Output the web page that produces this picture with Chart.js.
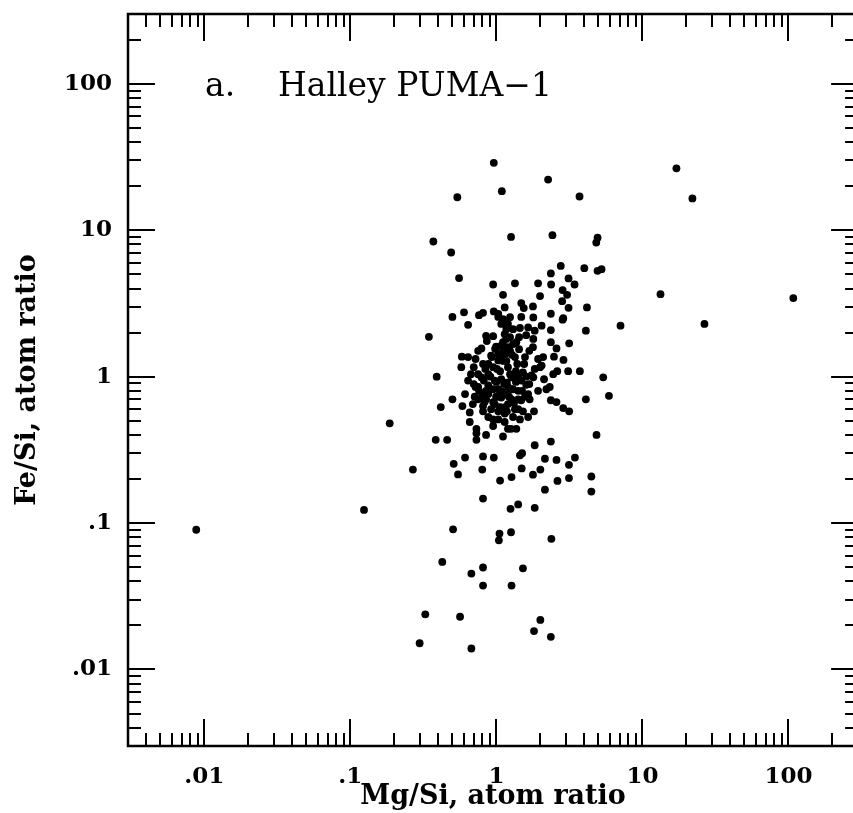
<!DOCTYPE html>
<html>
<head>
<meta charset="utf-8">
<script src="https://cdn.jsdelivr.net/npm/chart.js@4"></script>
<style>
  html, body { margin: 0; padding: 0; background: #fff; overflow: hidden; }
  #wrap { width: 853px; height: 813px; overflow: hidden; }
</style>
</head>
<body>
<div id="wrap"><canvas id="scatter" width="862" height="813"></canvas></div>
<script>
// Mg/Si and Fe/Si atom ratios, one entry per particle
const mgSi = [
  0.96, 2.26, 0.54, 1.09, 3.71, 1.26, 2.42, 4.93, 4.83, 0.37,
  0.49, 2.76, 4.00, 4.93, 5.25, 0.555, 2.36, 0.95, 1.34, 1.93,
  2.37, 3.12, 3.43, 1.11, 1.99, 2.84, 3.05, 2.82, 1.48, 1.54,
  1.78, 1.14, 0.96, 0.81, 0.76, 0.60, 0.50, 2.36, 3.12, 4.17,
  2.87, 1.48, 1.79, 1.03, 0.64, 0.345, 0.85, 2.04, 2.36, 2.84,
  4.10, 7.08, 2.36, 2.58, 3.15, 1.78, 0.79, 0.58, 0.72, 2.48,
  2.88, 0.39, 0.575, 3.10, 3.73, 5.39, 2.04, 2.45, 2.61, 1.79,
  1.52, 1.20, 1.30, 1.45, 1.65, 1.83, 1.14, 1.08, 1.20, 1.37,
  1.57, 1.34, 0.92, 0.88, 1.03, 1.20, 0.67, 0.79, 0.975, 1.27,
  1.48, 1.83, 1.99, 1.74, 0.64, 2.20, 2.32, 1.65, 1.69, 2.36,
  2.58, 2.87, 3.15, 4.10, 5.90, 1.81, 0.50, 0.61, 0.585, 0.416,
  0.71, 0.81, 0.81, 0.657, 0.657, 0.186, 0.73, 0.73, 0.73, 0.85,
  0.95, 0.95, 1.14, 1.30, 1.26, 1.37, 1.34, 1.14, 0.384, 0.46,
  1.83, 2.36, 4.85, 0.61, 0.81, 0.96, 1.45, 1.50, 2.15, 2.58,
  3.45, 0.75, 0.88, 1.03, 1.20, 1.41, 0.88, 1.08, 1.27, 1.48,
  0.975, 1.14, 0.83, 0.268, 0.51, 3.14, 0.546, 0.80, 1.49, 2.00,
  1.78, 1.27, 1.06, 2.62, 3.14, 4.47, 4.47, 2.15, 0.81, 1.41,
  1.25, 1.83, 0.505, 1.05, 1.04, 1.26, 2.38, 0.426, 0.674, 0.81,
  1.52, 0.81, 1.27, 0.326, 0.564, 2.00, 1.81, 2.36, 0.298, 0.674,
  0.0088, 0.124, 13.3, 17.1, 22.0, 26.6, 108,
  1.11, 1.17, 1.15, 1.11, 1.06, 1.18, 1.09, 1.22, 0.995, 0.85,
  0.75, 0.92, 1.03, 1.41, 1.57, 1.60, 1.36, 1.55, 1.68, 0.995,
  0.86, 0.72, 0.95, 0.82, 1.30, 1.45, 1.65, 1.24, 1.43, 2.09,
  2.12, 1.93,
  1.03, 1.08, 1.24, 1.17, 1.11, 1.24, 1.03, 1.30, 1.60, 1.79,
  1.43, 0.75, 0.70, 0.81, 0.75, 0.88, 1.08, 1.36, 1.60, 0.95,
  0.80, 0.69, 1.20, 1.41, 1.03, 1.20, 1.11, 0.88, 1.52, 1.93,
  0.64, 0.95,
  0.98, 1.08, 1.17, 1.28, 1.39, 1.24, 1.13, 1.00, 0.91, 0.85,
  0.95, 1.06, 1.18, 1.32, 1.50, 1.68, 0.76, 0.70, 0.84, 1.01,
  1.41, 1.15, 1.26, 1.03, 0.93, 1.11
];
const feSi = [
  28.9, 22.2, 16.8, 18.5, 17.0, 9.0, 9.25, 8.9, 8.24, 8.38,
  7.05, 5.71, 5.51, 5.28, 5.42, 4.71, 5.07, 4.26, 4.34, 4.34,
  4.26, 4.69, 4.26, 3.62, 3.55, 3.90, 3.62, 3.28, 3.18, 2.94,
  3.02, 2.97, 2.79, 2.73, 2.63, 2.75, 2.56, 2.69, 2.95, 2.97,
  2.51, 2.56, 2.54, 2.56, 2.26, 1.87, 1.90, 2.23, 2.08, 2.45,
  2.06, 2.23, 1.72, 1.56, 1.69, 1.59, 1.56, 1.37, 1.32, 1.37,
  1.30, 1.00, 1.16, 1.09, 1.09, 0.99, 1.19, 1.04, 1.09, 0.99,
  1.07, 2.29, 2.11, 2.15, 2.17, 2.06, 1.95, 1.63, 1.59, 1.72,
  1.36, 1.36, 1.39, 1.22, 1.29, 1.16, 1.04, 0.99, 0.94, 0.99,
  0.94, 1.13, 1.16, 1.02, 0.94, 0.82, 0.85, 0.76, 0.70, 0.69,
  0.67, 0.61, 0.58, 0.70, 0.74, 0.58, 0.70, 0.76, 0.63, 0.62,
  0.73, 0.63, 0.58, 0.57, 0.49, 0.48, 0.44, 0.41, 0.37, 0.40,
  0.51, 0.46, 0.49, 0.53, 0.44, 0.44, 0.60, 0.56, 0.37, 0.37,
  0.34, 0.36, 0.40, 0.28, 0.285, 0.28, 0.29, 0.30, 0.275, 0.27,
  0.28, 0.85, 0.87, 0.82, 0.85, 0.80, 0.76, 0.72, 0.70, 0.69,
  0.65, 0.62, 0.67, 0.232, 0.254, 0.25, 0.215, 0.232, 0.236, 0.232,
  0.214, 0.206, 0.195, 0.194, 0.203, 0.208, 0.164, 0.169, 0.147, 0.134,
  0.125, 0.127, 0.0906, 0.0847, 0.0762, 0.0865, 0.078, 0.0543, 0.0452, 0.0497,
  0.0491, 0.0374, 0.0374, 0.0238, 0.0229, 0.0218, 0.0183, 0.0167, 0.0151, 0.0139,
  0.090, 0.123, 3.66, 26.5, 16.5, 2.29, 3.44,
  2.47, 1.81, 1.43, 1.28, 1.09, 0.91, 0.79, 0.73, 0.73, 0.80,
  0.70, 0.60, 0.58, 0.60, 0.73, 0.88, 1.09, 1.22, 1.50, 1.60,
  1.75, 0.85, 1.16, 0.94, 0.82, 0.51, 0.53, 1.86, 1.54, 1.36,
  0.96, 0.80,
  2.68, 2.29, 2.55, 2.11, 1.72, 1.50, 1.43, 1.67, 1.92, 1.81,
  1.86, 1.50, 1.16, 1.22, 1.04, 1.04, 0.96, 0.92, 1.00, 0.82,
  0.75, 0.65, 0.65, 0.70, 0.51, 0.44, 0.39, 0.53, 0.58, 1.32,
  1.36, 1.89,
  1.55, 1.36, 1.28, 1.41, 1.22, 1.04, 0.89, 0.92, 1.00, 0.70,
  0.67, 0.62, 0.58, 0.66, 0.80, 0.89, 0.80, 0.89, 1.13, 1.13,
  1.00, 0.76, 0.82, 0.73, 1.36, 1.55
];

// axis decades and their printed labels
const tickValues = [0.01, 0.1, 1, 10, 100];
const tickLabels = ['.01', '.1', '1', '10', '100'];
const axisMin = 0.003;
const axisMax = 300;

const panelLabel = 'a.';
const panelTitle = 'Halley PUMA\u22121';
const xTitle = 'Mg/Si, atom ratio';
const yTitle = 'Fe/Si, atom ratio';

const serif = '"DejaVu Serif", "Liberation Serif", serif';

let points = mgSi.map((x, i) => ({ x: x, y: feSi[i] }));

// draw the box, the inward ticks on all four sides and the panel title
const frameTicks = {
    id: 'frameTicks',
    afterDraw(chart) {
        const { ctx, chartArea: a } = chart;
        const xs = chart.scales.x, ys = chart.scales.y;
        ctx.save();
        ctx.strokeStyle = '#000';
        ctx.lineWidth = 2;
        ctx.beginPath();
        for (let e = -3; e <= 2; e++) {
            for (let m = 1; m <= 9; m++) {
                const v = m * Math.pow(10, e);
                if (v < axisMin || v > axisMax) continue;
                const len = m === 1 ? 27 : 13;
                const px = Math.round(xs.getPixelForValue(v));
                ctx.moveTo(px, a.bottom); ctx.lineTo(px, a.bottom - len);
                ctx.moveTo(px, a.top); ctx.lineTo(px, a.top + len);
                const py = Math.round(ys.getPixelForValue(v));
                ctx.moveTo(a.left, py); ctx.lineTo(a.left + len, py);
                ctx.moveTo(a.right, py); ctx.lineTo(a.right - len, py);
            }
        }
        ctx.stroke();
        ctx.lineWidth = 2.5;
        ctx.strokeRect(a.left, a.top, a.right - a.left, a.bottom - a.top);

        ctx.fillStyle = '#000';
        ctx.font = '33px ' + serif;
        ctx.textBaseline = 'alphabetic';
        ctx.fillText(panelLabel, 205, 96);
        ctx.fillText(panelTitle, 278, 96);
        ctx.restore();
    }
};

function decadeTicks(scale) {
    scale.ticks = tickValues.map(v => ({ value: v }));
}

function tickText(value) {
    const i = tickValues.indexOf(value);
    return i >= 0 ? tickLabels[i] : '';
}

new Chart(document.getElementById('scatter'), {
    type: 'scatter',
    data: {
        datasets: [{
            data: points,
            backgroundColor: '#000',
            borderColor: '#000',
            borderWidth: 0,
            pointRadius: 3.9,
            pointHoverRadius: 3.9
        }]
    },
    options: {
        responsive: false,
        animation: false,
        layout: { padding: { top: 14, right: 3, left: 0, bottom: 0 } },
        plugins: {
            legend: { display: false },
            tooltip: { enabled: false }
        },
        scales: {
            x: {
                type: 'logarithmic',
                min: axisMin,
                max: axisMax,
                afterBuildTicks: decadeTicks,
                afterFit: s => { s.height = 67; s.paddingLeft = 0; s.paddingRight = 0; },
                grid: { display: false, drawTicks: false },
                border: { display: false },
                ticks: {
                    callback: tickText,
                    autoSkip: false,
                    maxRotation: 0,
                    padding: 17,
                    color: '#000',
                    font: { family: serif, size: 23, weight: 'bold' }
                },
                title: {
                    display: true,
                    text: xTitle,
                    color: '#000',
                    padding: { top: 0, bottom: 0 },
                    font: { family: serif, size: 27, weight: 'bold' }
                }
            },
            y: {
                type: 'logarithmic',
                min: axisMin,
                max: axisMax,
                afterBuildTicks: decadeTicks,
                afterFit: s => { s.width = 128; s.paddingTop = 0; s.paddingBottom = 0; },
                grid: { display: false, drawTicks: false },
                border: { display: false },
                ticks: {
                    callback: tickText,
                    autoSkip: false,
                    padding: 16,
                    color: '#000',
                    font: { family: serif, size: 23, weight: 'bold' }
                },
                title: {
                    display: true,
                    text: yTitle,
                    color: '#000',
                    padding: { top: 12, bottom: 0 },
                    font: { family: serif, size: 27, weight: 'bold' }
                }
            }
        }
    },
    plugins: [frameTicks]
});
</script>
</body>
</html>
